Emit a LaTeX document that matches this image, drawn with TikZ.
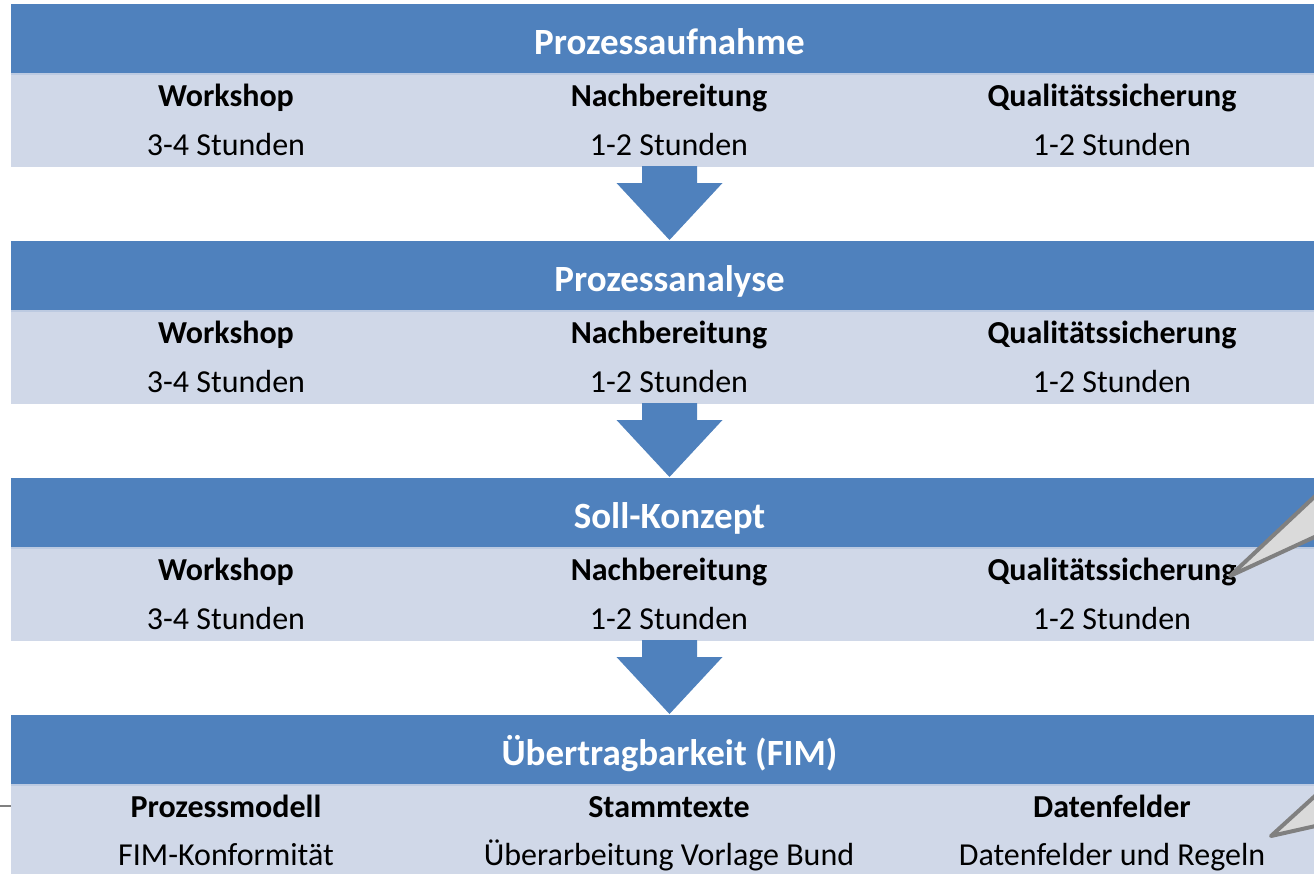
\documentclass[tikz,border=0pt]{standalone}
\usepackage{fontspec}
\setmainfont{Carlito}
\definecolor{headblue}{HTML}{4F81BD}
\definecolor{bandgray}{HTML}{D0D8E8}
\definecolor{bandedge}{HTML}{BCCAE1}
\definecolor{calloutfill}{HTML}{DADADA}
\definecolor{calloutline}{HTML}{808080}

\begin{document}
\begin{tikzpicture}[x=1pt,y=-1pt,
  headbar/.style={rectangle,fill=headblue,minimum width=1317pt,minimum height=69pt,
    inner sep=0pt,outer sep=0pt,anchor=north,text=white,text height=34pt,text depth=2pt,
    font=\fontsize{37}{44}\selectfont\bfseries},
  bandbar/.style={rectangle,fill=bandgray,minimum width=1317pt,minimum height=94pt,
    inner sep=0pt,outer sep=0pt,anchor=north},
  coltitle/.style={anchor=base,inner sep=0pt,font=\fontsize{32}{38}\selectfont\bfseries},
  coltext/.style={anchor=base,inner sep=0pt,font=\fontsize{32}{38}\selectfont},
  flowarrow/.style={fill=headblue},
  callout/.style={fill=calloutfill,draw=calloutline,line width=4pt,line join=round}]
\useasboundingbox (0,0) rectangle (1314,873);

% Phasen
\foreach \i/\ytop/\title in {1/4/Prozessaufnahme,2/241/Prozessanalyse,3/478/Soll-Konzept,4/715/{Übertragbarkeit (FIM)}} {
\node[headbar] (head\i) at (669.5,\ytop) {\title};
\node[bandbar] (band\i) at (head\i.south) {};
\draw[bandedge,line width=2pt] ([yshift=-1pt]band\i.north west) -- ([yshift=-1pt]band\i.north east);
}

\foreach \i/\ytop in {1/4,2/241,3/478} {
\node[coltitle] (work\i) at (226,\ytop+102) {Workshop};
\node[coltext] (workh\i) at (226,\ytop+151) {3-4 Stunden};
\node[coltitle] (nach\i) at (669,\ytop+102) {Nachbereitung};
\node[coltext] (nachh\i) at (669,\ytop+151) {1-2 Stunden};
\node[coltitle] (qual\i) at (1112,\ytop+102) {Qualitätssicherung};
\node[coltext] (qualh\i) at (1112,\ytop+151) {1-2 Stunden};
}

\node[coltitle] (modell) at (226,817) {Prozessmodell};
\node[coltext] (konform) at (226,865) {FIM-Konformität};
\node[coltitle] (stamm) at (669,817) {Stammtexte};
\node[coltext] (vorlage) at (669,865) {Überarbeitung Vorlage Bund};
\node[coltitle] (felder) at (1112,817) {Datenfelder};
\node[coltext] (regeln) at (1112,865) {Datenfelder und Regeln};

% Pfeile
\foreach \i/\j in {1/2,2/3,3/4} {
\fill[flowarrow] ([xshift=-27.5pt,yshift=1pt]band\i.south) -- ++(0,17) -- ++(-25.5,0) --
([yshift=1pt]head\j.north) -- ++(53,-57) -- ++(-25.5,0) -- ++(0,-17) -- cycle;
}

% Sprechblasen
\filldraw[callout] (1230,576) -- (1360,454) -- (1360,516) -- cycle;
\filldraw[callout] (1271,836) -- (1360,755) -- (1360,816) -- cycle;

\coordinate (lefthook) at (-20,806);
\draw[calloutline,line width=1.5pt] (lefthook) -- (lefthook -| band4.west);
\end{tikzpicture}
\end{document}
